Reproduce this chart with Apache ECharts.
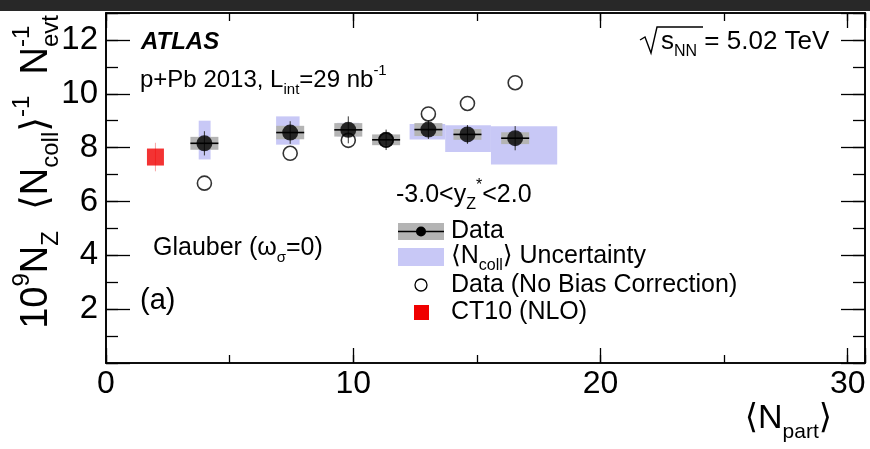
<!DOCTYPE html>
<html>
<head>
<meta charset="utf-8">
<script src="https://cdn.jsdelivr.net/npm/echarts@6/dist/echarts.min.js"></script>
<style>
html,body{margin:0;padding:0;background:#fff;}
#c{width:870px;height:449px;}
</style>
</head>
<body>
<div id="c"></div>
<script>
// ---------------- data ----------------
const npart       = [3.98, 7.45, 9.80, 11.33, 13.04, 14.62, 16.55];
const zYield      = [8.16, 8.56, 8.66, 8.29, 8.67, 8.49, 8.35];
const statErr     = [0.45, 0.42, 0.50, 0.38, 0.35, 0.35, 0.45];
const sysErr      = [0.24, 0.25, 0.25, 0.20, 0.24, 0.20, 0.22];
const ncollXLo    = [3.75, 6.88, 9.35, 10.95, 12.28, 13.72, 15.57];
const ncollXHi    = [4.23, 7.83, 10.25, 11.70, 13.72, 15.57, 18.25];
const ncollYLo    = [7.56, 8.11, 8.42, 8.18, 8.30, 7.84, 7.37];
const ncollYHi    = [9.00, 9.16, 8.92, 8.40, 8.88, 8.83, 8.79];
const noBiasYield = [6.68, 7.79, 8.27, 8.28, 9.25, 9.64, 10.41];
const ct10Npart   = [2.0];
const ct10Yield   = [7.65];
const ct10Err     = [0.53];
const xTickLabels = ['0', '10', '20', '30'];
const yTickLabels = ['2', '4', '6', '8', '10', '12'];

// ---------------- chart ----------------
const FONT = '"Liberation Sans", Arial, Helvetica, "DejaVu Sans", sans-serif';
const chart = echarts.init(document.getElementById('c'), null, {renderer: 'canvas'});

const XMIN = 0, XMAX = 30.7, YMIN = 0, YMAX = 13;

function mkX(pos, interval, len, labels) {
  return {
    type: 'value', min: XMIN, max: XMAX, interval: interval, position: pos,
    axisLine: {show: true, onZero: false, lineStyle: {color: '#000', width: 1.6}},
    axisTick: {show: true, inside: true, length: len, lineStyle: {color: '#000', width: 1.3}},
    axisLabel: {show: labels, fontSize: 32, color: '#000', fontFamily: FONT, margin: 5,
      formatter: v => xTickLabels.includes(String(v)) ? String(v) : ''},
    splitLine: {show: false}
  };
}
function mkY(pos, interval, len, labels) {
  return {
    type: 'value', min: YMIN, max: YMAX, interval: interval, position: pos,
    axisLine: {show: true, onZero: false, lineStyle: {color: '#000', width: 1.6}},
    axisTick: {show: true, inside: true, length: len, lineStyle: {color: '#000', width: 1.3}},
    axisLabel: {show: labels, fontSize: 33, color: '#000', fontFamily: FONT, margin: 8,
      formatter: v => yTickLabels.includes(String(v)) ? String(v) : ''},
    splitLine: {show: false}
  };
}

const ncollData = npart.map((x, i) => [ncollXLo[i], ncollXHi[i], ncollYLo[i], ncollYHi[i]]);
const mainData  = npart.map((x, i) => [x, zYield[i], statErr[i], sysErr[i]]);
const noBiasData = npart.map((x, i) => [x, noBiasYield[i]]);
const ct10Data = ct10Npart.map((x, i) => [x, ct10Yield[i], ct10Err[i]]);

const BOXW = 28;

const option = {
  animation: false,
  backgroundColor: '#fff',
  grid: {left: 106, top: 13, right: 5, bottom: 86, containLabel: false},
  xAxis: [
    mkX('bottom', 10, 15, true),
    mkX('bottom', 5, 8, false),
    mkX('top', 10, 15, false),
    mkX('top', 5, 8, false)
  ],
  yAxis: [
    mkY('left', 2, 24, true),
    mkY('left', 1, 12, false),
    mkY('right', 2, 24, false),
    mkY('right', 1, 12, false)
  ],
  series: [
    {
      name: 'ncoll', type: 'custom', data: ncollData, encode: {x: [0, 1], y: [2, 3]},
      renderItem: function (params, api) {
        const p0 = api.coord([api.value(0), api.value(3)]);
        const p1 = api.coord([api.value(1), api.value(2)]);
        return {type: 'rect', shape: {x: p0[0], y: p0[1], width: p1[0] - p0[0], height: p1[1] - p0[1]},
          style: {fill: '#c8c8f6'}};
      }
    },
    {
      name: 'sys', type: 'custom', data: mainData, encode: {x: 0, y: 1},
      renderItem: function (params, api) {
        const x = api.value(0), y = api.value(1), s = api.value(3);
        const c = api.coord([x, y]);
        const t = api.coord([x, y + s]);
        const b = api.coord([x, y - s]);
        return {type: 'rect', shape: {x: c[0] - BOXW / 2, y: t[1], width: BOXW, height: b[1] - t[1]},
          style: {fill: '#b4b4b4'}};
      }
    },
    {
      name: 'err', type: 'custom', data: mainData, encode: {x: 0, y: 1},
      renderItem: function (params, api) {
        const x = api.value(0), y = api.value(1), e = api.value(2);
        const c = api.coord([x, y]);
        const t = api.coord([x, y + e]);
        const b = api.coord([x, y - e]);
        return {type: 'group', children: [
          {type: 'line', shape: {x1: c[0], y1: t[1], x2: c[0], y2: b[1]}, style: {stroke: '#333', lineWidth: 1}},
          {type: 'line', shape: {x1: c[0] - BOXW / 2, y1: c[1], x2: c[0] + BOXW / 2, y2: c[1]}, style: {stroke: '#000', lineWidth: 1.6}}
        ]};
      }
    },
    {
      name: 'noBias', type: 'scatter', data: noBiasData, symbol: 'circle', symbolSize: 14,
      itemStyle: {color: 'rgba(0,0,0,0)', borderColor: '#000', borderWidth: 1.6}
    },
    {
      name: 'data', type: 'scatter', data: npart.map((x, i) => [x, zYield[i]]), symbol: 'circle', symbolSize: 16,
      itemStyle: {color: '#000'}
    },
    {
      name: 'ct10err', type: 'custom', data: ct10Data, encode: {x: 0, y: 1},
      renderItem: function (params, api) {
        const x = api.value(0), y = api.value(1), e = api.value(2);
        const t = api.coord([x, y + e]);
        const b = api.coord([x, y - e]);
        return {type: 'line', shape: {x1: t[0], y1: t[1], x2: b[0], y2: b[1]}, style: {stroke: 'rgba(240,60,60,0.45)', lineWidth: 1}};
      }
    },
    {
      name: 'ct10', type: 'scatter', data: ct10Data.map(d => [d[0], d[1]]), symbol: 'rect', symbolSize: 17,
      itemStyle: {color: '#f00000'}
    }
  ],
  graphic: []
};

function rich(base, small) {
  const L = Math.round(base * 1.4);
  return {
    n:   {fontSize: base,  fontFamily: FONT, color: '#000', lineHeight: L, verticalAlign: 'middle'},
    b:   {fontSize: base,  fontFamily: FONT, color: '#000', lineHeight: L, verticalAlign: 'middle', fontWeight: 'bold', fontStyle: 'italic'},
    sub: {fontSize: small, fontFamily: FONT, color: '#000', lineHeight: small, verticalAlign: 'bottom'},
    sup: {fontSize: small, fontFamily: FONT, color: '#000', lineHeight: small, verticalAlign: 'top'}
  };
}
function txt(x, y, text, base, small, align, extra) {
  return Object.assign({
    type: 'text', x: x, y: y, silent: true,
    style: {text: text, rich: rich(base, small), align: align || 'left', verticalAlign: 'middle', fill: '#000',
      font: base + 'px ' + FONT}
  }, extra || {});
}
function measure(str, size) {
  const ctx = document.createElement('canvas').getContext('2d');
  ctx.font = size + 'px ' + FONT;
  return ctx.measureText(str).width;
}

// y-axis title geometry (ROOT-style stacked sub/superscript on N_evt)
const YT_X = 37, YT_TOP = 15, YT_F = 38, YT_S = 24;
const evtW = measure('evt', YT_S);

const LX = 451; // legend text left

option.graphic = [
  {type: 'rect', shape: {x: 0, y: 0, width: 870, height: 11}, style: {fill: '#282828'}, silent: true},
  txt(141, 42, '{b|ATLAS}', 24, 15),
  txt(140, 80, '{n|p+Pb 2013, L}{sub|int}{n|=29 nb}{sup|-1}', 24, 15),
  // sqrt(s_NN) = 5.02 TeV
  {type: 'polyline', shape: {points: [[640, 40], [645, 37], [651, 53], [657, 27], [703, 27]]},
    style: {stroke: '#000', lineWidth: 1.4, fill: null}, silent: true},
  txt(661, 42, '{n|s}{sub|NN}{n| = 5.02 TeV}', 26, 16),
  // legend
  txt(396, 195, '{n|-3.0<y}{sub|Z}{sup|*}{n|<2.0}', 25, 16),
  {type: 'rect', shape: {x: 398, y: 223, width: 46, height: 17}, style: {fill: '#b4b4b4'}, silent: true},
  {type: 'line', shape: {x1: 398, y1: 231.5, x2: 444, y2: 231.5}, style: {stroke: '#000', lineWidth: 1.6}, silent: true},
  {type: 'circle', shape: {cx: 421, cy: 231.5, r: 5}, style: {fill: '#000'}, silent: true},
  txt(LX, 231, '{n|Data}', 25, 16),
  {type: 'rect', shape: {x: 398, y: 248, width: 46, height: 18}, style: {fill: '#c8c8f6'}, silent: true},
  txt(LX, 256, '{n|\u27E8N}{sub|coll}{n|\u27E9 Uncertainty}', 25, 16),
  {type: 'circle', shape: {cx: 421, cy: 285, r: 6}, style: {fill: null, stroke: '#000', lineWidth: 1.3}, silent: true},
  txt(LX, 285, '{n|Data (No Bias Correction)}', 25, 16),
  {type: 'rect', shape: {x: 414, y: 305, width: 15, height: 15}, style: {fill: '#f00000'}, silent: true},
  txt(LX, 312, '{n|CT10 (NLO)}', 25, 16),
  // annotations
  txt(153, 248, '{n|Glauber (\u03C9}{sub|\u03C3}{n|=0)}', 25, 15),
  txt(140, 301, '{n|(a)}', 29, 18),
  // axis titles
  txt(832, 419, '{n|\u27E8N}{sub|part}{n|\u27E9}', 34, 21, 'right'),
  txt(YT_X, YT_TOP, '{n|10}{sup|9}{n|N}{sub|Z}{n|  \u27E8N}{sub|coll}{n|\u27E9}{sup|-1}{n|  N}{sub|evt}', YT_F, YT_S, 'right',
    {rotation: Math.PI / 2}),
  txt(YT_X, YT_TOP + evtW, '{n|\u200b}{sup|-1}', YT_F, YT_S, 'left', {rotation: Math.PI / 2})
];

chart.setOption(option);
</script>
</body>
</html>
